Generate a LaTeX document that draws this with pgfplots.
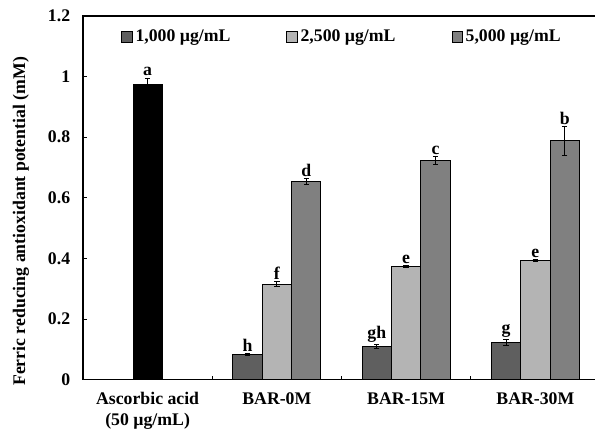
\documentclass[border=0pt]{standalone}
\usepackage{pgfplots}
\pgfplotsset{compat=1.18}
\usepackage{pgfplotstable}
\usepackage{fontspec}
\setmainfont{Liberation Serif}
\definecolor{cA}{HTML}{5F5F5F}
\definecolor{cB}{HTML}{B4B4B4}
\definecolor{cC}{HTML}{808080}
\newcommand{\ff}{\fontsize{13.3}{15.5}\selectfont\bfseries}

\pgfplotstableread{
x y e lab
0.773 0.083 0.004 h
1.773 0.110 0.007 gh
2.773 0.121 0.010 g
}\tA
\pgfplotstableread{
x y e lab
1 0.315 0.007 f
2 0.372 0.003 e
3 0.392 0.003 e
}\tB
\pgfplotstableread{
x y e lab
1.227 0.653 0.010 d
2.227 0.722 0.013 c
3.227 0.788 0.047 b
}\tC
\pgfplotstableread{
x y e lab
0 0.975 0.020 a
}\tD

\begin{document}
\begin{tikzpicture}
\ff
\begin{axis}[
  scale only axis, width=387.75pt, height=272.625pt,
  xmin=-0.5, xmax=3.5, ymin=0, ymax=1.2,
  ytick={0,0.2,0.4,0.6,0.8,1,1.2},
  xtick={0,1,2,3},
  xticklabels={{Ascorbic acid\\(50 µg/mL)},BAR-0M,BAR-15M,BAR-30M},
  minor xtick={0.5,1.5,2.5},
  major x tick style={draw=none},
  tick align=inside, xtick pos=bottom, ytick pos=left,
  major tick length=3pt, minor tick length=3pt,
  tick style={black, line width=0.6pt},
  axis line style={line width=1pt},
  /pgf/number format/assume math mode=true,
  ticklabel style={font=\ff},
  yticklabel style={xshift=-5pt},
  xticklabel style={align=center, yshift=-5pt, font=\ff},
  ylabel={Ferric reducing antioxidant potential (mM)},
  ylabel style={at={(axis description cs:-0.12,0.435)}, anchor=center, rotate=0, font=\ff},
  legend columns=3,
  legend style={draw=none, fill=none, at={(axis description cs:0.066,0.942)}, anchor=west,
    font=\ff,
    /tikz/every even column/.append style={column sep=40pt}},
  legend image code/.code={\draw[#1, draw=black, line width=0.6pt] (0pt,-4pt) rectangle (8pt,4pt);},
  bar width=0.227,
  point meta=explicit symbolic,
  nodes near coords={\pgfplotspointmeta},
  visualization depends on={\thisrow{e} \as \err},
  every node near coord/.append style={anchor=south, inner sep=1.2pt,
    shift={(axis direction cs:0,\err)}, font=\ff},
]
\addplot[ybar, bar shift=0, fill=cA, draw=black, line width=0.6pt,
  error bars/.cd, y dir=both, y explicit, error bar style={black, line width=0.8pt},
  error mark options={rotate=90, mark size=2pt, black, line width=0.8pt}]
  table[x=x, y=y, y error=e, meta=lab]{\tA};
\addlegendentry{1,000 µg/mL}
\addplot[ybar, bar shift=0, fill=cB, draw=black, line width=0.6pt,
  error bars/.cd, y dir=both, y explicit, error bar style={black, line width=0.8pt},
  error mark options={rotate=90, mark size=2pt, black, line width=0.8pt}]
  table[x=x, y=y, y error=e, meta=lab]{\tB};
\addlegendentry{2,500 µg/mL}
\addplot[ybar, bar shift=0, fill=cC, draw=black, line width=0.6pt,
  error bars/.cd, y dir=both, y explicit, error bar style={black, line width=0.8pt},
  error mark options={rotate=90, mark size=2pt, black, line width=0.8pt}]
  table[x=x, y=y, y error=e, meta=lab]{\tC};
\addlegendentry{5,000 µg/mL}
\addplot[ybar, bar shift=0, fill=black, draw=black, line width=0.6pt, forget plot,
  error bars/.cd, y dir=both, y explicit, error bar style={black, line width=0.8pt},
  error mark options={rotate=90, mark size=2pt, black, line width=0.8pt}]
  table[x=x, y=y, y error=e, meta=lab]{\tD};
\end{axis}
\pgfresetboundingbox
\path (-62.25pt,-42.375pt) rectangle (384pt,284.625pt);
\end{tikzpicture}
\end{document}
